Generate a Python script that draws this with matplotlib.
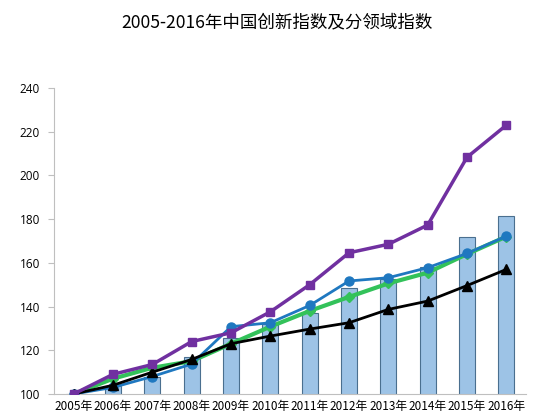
import matplotlib
matplotlib.use("Agg")
import matplotlib.pyplot as plt
import numpy as np

plt.rcParams['font.family'] = ['Noto Sans CJK SC', 'DejaVu Sans']

years = ['2005年', '2006年', '2007年', '2008年', '2009年', '2010年',
         '2011年', '2012年', '2013年', '2014年', '2015年', '2016年']
# bars: overall innovation index
total = [100, 103.5, 108, 117, 125.6, 132, 137, 148.6, 152.6, 158, 171.8, 181.4]
# sub-indices (lines)
purple_vals = [100, 109, 113.5, 124, 128, 137.6, 150, 164.6, 168.5, 177.3, 208.3, 223]
blue_vals = [100, 103, 108, 113.7, 130.8, 132.6, 140.5, 151.7, 153.2, 157.8, 164.3, 172.2]
green_vals = [100, 107, 112, 115, 123, 130.8, 138, 144.4, 150.6, 155.5, 164, 172]
black_vals = [100, 104, 110, 115.8, 123, 126.5, 129.7, 132.6, 138.7, 142.5, 149.6, 157]

x = np.arange(len(years))

fig = plt.figure(figsize=(5.39, 4.16), dpi=100)
ax = fig.add_axes([0.1002, 0.0529, 0.8757, 0.7356])

ax.bar(x, total, width=0.4, color='#9DC3E6', edgecolor='#4A6F8F', linewidth=0.8, zorder=1)
ax.plot(x, green_vals, color='#33C25A', lw=3, marker='D', ms=5, zorder=2)
ax.plot(x, blue_vals, color='#1F78C0', lw=2, marker='o', ms=6.5, zorder=3)
ax.plot(x, black_vals, color='black', lw=2, marker='^', ms=7, zorder=4)
ax.plot(x, purple_vals, color='#7030A0', lw=2.5, marker='s', ms=6, zorder=5)

ax.set_xlim(-0.5, 11.5)
ax.set_ylim(100, 240)
ax.set_yticks(np.arange(100, 241, 20))
ax.set_xticks(x)
ax.set_xticklabels(years, fontsize=8.5)
ax.tick_params(axis='x', length=0, pad=4)
ax.tick_params(axis='y', length=4, color='#BFBFBF', labelsize=8.5, pad=6)
for lab in ax.get_yticklabels():
    lab.set_family(['Open Sans', 'DejaVu Sans'])

for s in ['top', 'right']:
    ax.spines[s].set_visible(False)
ax.spines['left'].set_color('#BFBFBF')
ax.spines['bottom'].set_color('#BFBFBF')

fig.text(0.514, 0.945, '2005-2016年中国创新指数及分领域指数', ha='center', va='center', fontsize=12.6)

fig.savefig('out.png', dpi=100)
